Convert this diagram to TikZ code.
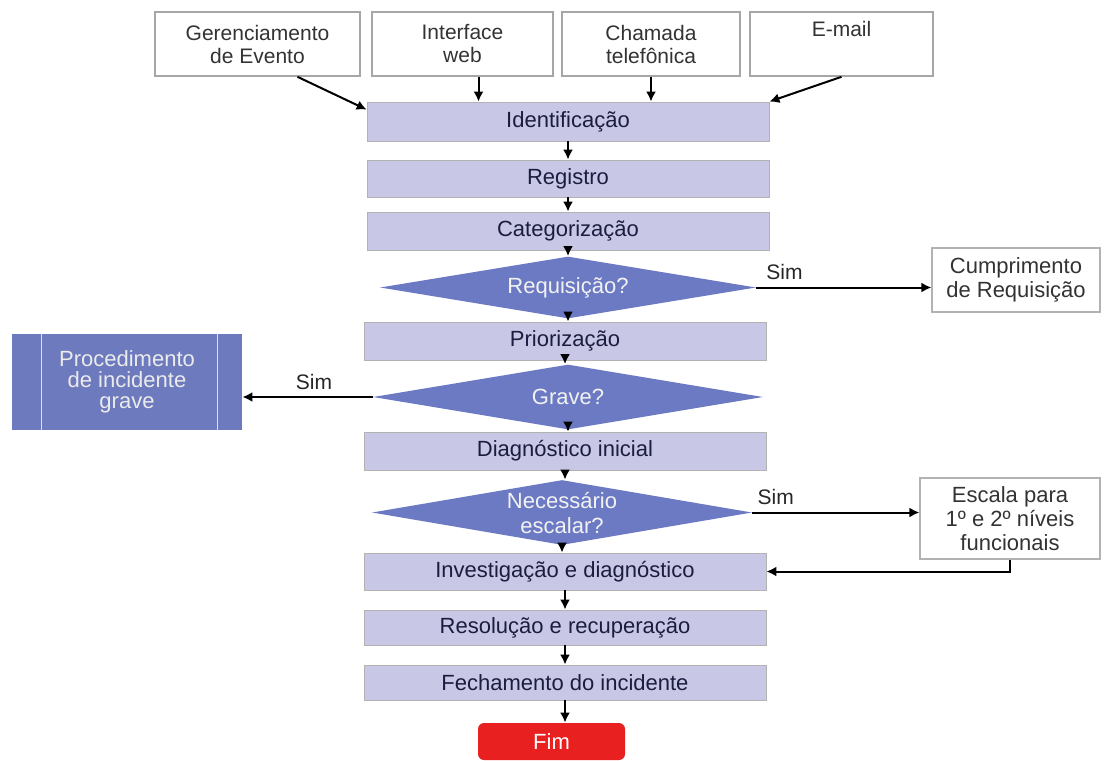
\documentclass[tikz,border=0pt]{standalone}
\usepackage{fontspec}
\setmainfont{Liberation Sans}
\usetikzlibrary{shapes.geometric,arrows.meta}

\definecolor{stepfill}{RGB}{200,200,230}
\definecolor{stepink}{RGB}{28,28,64}
\definecolor{queryfill}{RGB}{108,122,196}
\definecolor{gravefill}{RGB}{110,122,190}
\definecolor{fimfill}{RGB}{232,32,32}

\begin{document}
\begin{tikzpicture}[x=0.5pt,y=-0.5pt,
    srcbox/.style={draw=black!35, fill=white, line width=0.8pt, minimum width=#1,
      minimum height=32pt, inner sep=0pt, align=center, text=black!80,
      font=\fontsize{10.5}{11.5}\selectfont},
    stepbox/.style={draw=black!30, fill=stepfill, minimum width=201pt, minimum height=#1,
      inner sep=0pt, text=stepink, font=\fontsize{11}{13}\selectfont},
    stepbox/.default=19pt,
    query/.style={diamond, fill=queryfill, minimum width=#1, minimum height=31pt, inner sep=0pt},
    querytext/.style={text=black!5, align=center, font=\fontsize{11}{12.5}\selectfont},
    outbox/.style={draw=black!30, fill=white, line width=0.6pt, inner sep=0pt, align=center,
      text=black!80, font=\fontsize{11}{12}\selectfont},
    flow/.style={-{Latex[length=5pt,width=5pt]}, line width=1pt},
    yes/.style={above, font=\fontsize{10.5}{12}\selectfont, text=black!85}]

  \useasboundingbox (0,0) rectangle (1106,760);

  % entradas
  \node[srcbox=102.5pt] (evento) at (257.5,44) {Gerenciamento\\de Evento};
  \node[srcbox=90.5pt] (web) at (462.5,44) {Interface\\web};
  \node[srcbox=89pt] (chamada) at (651,44) {Chamada\\telefônica};
  \node[srcbox=91.5pt] (email) at (841.5,44) {E-mail\\\strut};

  % fluxo principal
  \node[stepbox=19.5pt] (ident) at (568,121.5) {Identificação};
  \node[stepbox=18.5pt] (regis) at (568,178.5) {Registro};
  \node[stepbox] (categ) at (568,231) {Categorização};
  \node[query=188pt, label={[querytext]center:Requisição?}] (requis) at (568,287.5) {};
  \node[stepbox] (prior) at (565,341) {Priorização};
  \node[query=195pt, minimum height=32.5pt, label={[querytext]center:Grave?}] (grave) at (568,397) {};
  \node[stepbox] (diaginic) at (565,451) {Diagnóstico inicial};
  \node[query=190pt, minimum height=32.5pt,
    label={[querytext]center:Necessário\\escalar?}] (escalar) at (562,512.5) {};
  \node[stepbox=18.5pt] (invest) at (565,571.5) {Investigação e diagnóstico};
  \node[stepbox=17.5pt] (resol) at (565,627.5) {Resolução e recuperação};
  \node[stepbox=17.5pt] (fecha) at (565,682.5) {Fechamento do incidente};
  \node[fill=fimfill, rounded corners=3pt, minimum width=73.5pt, minimum height=18.5pt,
    inner sep=0pt, text=white, font=\fontsize{11}{13}\selectfont] (fim) at (551.5,741.5) {Fim};

  % desvios
  \node[outbox, minimum width=84pt, minimum height=32pt] (cumpr) at (1016,280)
    {Cumprimento\\de Requisição};
  \node[fill=gravefill, minimum width=115pt, minimum height=48pt, inner sep=0pt, align=center,
    text=black!8, font=\fontsize{11}{10.5}\selectfont] (proc) at (127,382)
    {Procedimento\\de incidente\\grave};
  \draw[white!75!gravefill, line width=0.8pt] ([xshift=15pt]proc.north west) -- ([xshift=15pt]proc.south west);
  \draw[white!75!gravefill, line width=0.8pt] ([xshift=-12.5pt]proc.north east) -- ([xshift=-12.5pt]proc.south east);
  \node[outbox, minimum width=90pt, minimum height=40.5pt] (escala) at (1010,518.5)
    {Escala para\\1º e 2º níveis\\funcionais};

  % conexoes
  \draw[flow] ([xshift=20pt]evento.south) -- ([yshift=-4pt]ident.north west);
  \draw[flow] ([xshift=8pt]web.south) -- ([xshift=8pt]web.south |- ident.north);
  \draw[flow] (chamada.south) -- (chamada.south |- ident.north);
  \draw[flow] (email.south) -- (ident.north east);
  \foreach \a/\b in {ident/regis, regis/categ, categ/requis, requis/prior, prior/grave,
      grave/diaginic, diaginic/escalar, escalar/invest, invest/resol, resol/fecha, fecha/fim}
    \draw[flow] (\a.south) -- (\a.south |- \b.north);

  \draw[flow] (requis.east) -- node[yes, pos=0.16] {Sim} (requis.east -| cumpr.west);
  \draw[flow] (grave.west) -- node[yes, pos=0.45] {Sim} (grave.west -| proc.east);
  \draw[flow] (escalar.east) -- node[yes, pos=0.14] {Sim} (escalar.east -| escala.west);
  \draw[flow] (escala.south) |- (invest.east);
\end{tikzpicture}
\end{document}
